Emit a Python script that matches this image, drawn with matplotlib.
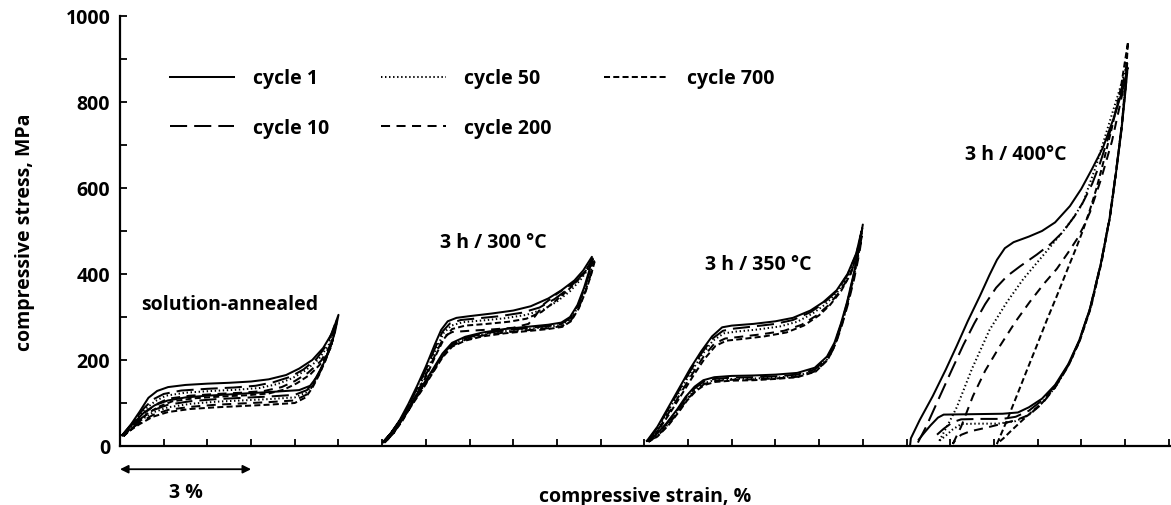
import numpy as np
import matplotlib.pyplot as plt

plt.rcParams['font.family'] = ['Open Sans', 'DejaVu Sans']
plt.rcParams['font.weight'] = 'bold'

# cycle labels and line styles
cycles = ['cycle 1', 'cycle 10', 'cycle 50', 'cycle 200', 'cycle 700']

# ---- solution-annealed (strain %, stress MPa), loading then unloading ----
sa_c1 = [(0.05, 25), (0.25, 50), (0.45, 80), (0.65, 112), (0.85, 128), (1.1, 137), (1.5, 142), (2.0, 145),
         (2.5, 147), (3.0, 150), (3.4, 155), (3.8, 165), (4.1, 180), (4.4, 200), (4.65, 228), (4.85, 262),
         (5.0, 305),
         (4.92, 265), (4.8, 225), (4.65, 190), (4.5, 160), (4.35, 140), (4.1, 130), (3.5, 126), (3.0, 123),
         (2.5, 120), (2.0, 117), (1.5, 113), (1.1, 106), (0.8, 95), (0.55, 78), (0.3, 52), (0.05, 25)]
sa_c10 = [(0.05, 25), (0.3, 55), (0.55, 88), (0.75, 108), (1.0, 121), (1.4, 129), (2.0, 133), (2.6, 136),
          (3.1, 140), (3.5, 148), (3.9, 161), (4.2, 178), (4.5, 203), (4.75, 238), (4.97, 296),
          (4.88, 252), (4.73, 210), (4.58, 176), (4.43, 149), (4.28, 130), (4.0, 119), (3.4, 115), (2.8, 112),
          (2.2, 109), (1.6, 104), (1.1, 96), (0.75, 83), (0.45, 62), (0.2, 40), (0.05, 25)]
sa_c50 = [(0.06, 24), (0.3, 52), (0.55, 83), (0.8, 104), (1.05, 117), (1.5, 124), (2.1, 128), (2.7, 131),
          (3.2, 135), (3.6, 144), (3.95, 158), (4.25, 176), (4.55, 202), (4.78, 236), (4.96, 292),
          (4.87, 248), (4.72, 206), (4.57, 172), (4.42, 145), (4.27, 125), (4.0, 113), (3.4, 109), (2.8, 106),
          (2.2, 103), (1.6, 98), (1.1, 90), (0.75, 78), (0.45, 58), (0.2, 38), (0.06, 24)]
sa_c200 = [(0.07, 24), (0.35, 52), (0.6, 80), (0.85, 98), (1.1, 110), (1.6, 117), (2.2, 121), (2.8, 124),
           (3.3, 128), (3.7, 137), (4.0, 151), (4.3, 170), (4.6, 198), (4.8, 232), (4.95, 288),
           (4.86, 244), (4.71, 202), (4.56, 168), (4.41, 140), (4.26, 119), (4.0, 106), (3.4, 102), (2.8, 99),
           (2.2, 96), (1.6, 91), (1.1, 84), (0.75, 72), (0.45, 54), (0.2, 36), (0.07, 24)]
sa_c700 = [(0.08, 23), (0.35, 48), (0.62, 75), (0.9, 92), (1.2, 104), (1.7, 111), (2.3, 115), (2.9, 118),
           (3.4, 122), (3.75, 131), (4.05, 146), (4.35, 166), (4.62, 194), (4.82, 228), (4.95, 284),
           (4.85, 240), (4.7, 198), (4.55, 164), (4.4, 135), (4.25, 113), (4.0, 100), (3.4, 96), (2.8, 93),
           (2.2, 90), (1.6, 86), (1.1, 79), (0.75, 68), (0.45, 51), (0.2, 34), (0.08, 23)]

# ---- 3 h / 300 C ----
h300_c1 = [(6.02, 9), (6.2, 30), (6.4, 60), (6.6, 98), (6.8, 140), (7.0, 185), (7.2, 235), (7.35, 270),
           (7.5, 290), (7.7, 298), (8.0, 302), (8.5, 308), (9.0, 315), (9.4, 325), (9.8, 343), (10.1, 362),
           (10.4, 385), (10.6, 408), (10.8, 440),
           (10.74, 408), (10.62, 368), (10.47, 328), (10.3, 300), (10.1, 287), (9.8, 282), (9.3, 277),
           (8.8, 272), (8.3, 264), (7.9, 254), (7.6, 240), (7.38, 215), (7.17, 180), (6.95, 145), (6.7, 105),
           (6.45, 65), (6.2, 30), (6.02, 9)]
h300_c10 = [(6.03, 8), (6.22, 30), (6.42, 60), (6.62, 97), (6.82, 138), (7.02, 182), (7.22, 230), (7.38, 266),
            (7.55, 285), (7.8, 293), (8.2, 297), (8.7, 302), (9.2, 310), (9.6, 322), (9.95, 342), (10.25, 365),
            (10.5, 390), (10.68, 412), (10.82, 436),
            (10.75, 405), (10.63, 366), (10.48, 326), (10.3, 297), (10.1, 284), (9.8, 279), (9.3, 274),
            (8.8, 269), (8.3, 261), (7.9, 251), (7.6, 237), (7.38, 212), (7.17, 177), (6.95, 142), (6.7, 102),
            (6.45, 63), (6.22, 30), (6.03, 8)]
h300_c50 = [(6.04, 8), (6.24, 30), (6.44, 60), (6.64, 96), (6.84, 136), (7.04, 180), (7.24, 226), (7.4, 262),
            (7.58, 280), (7.85, 288), (8.3, 292), (8.8, 297), (9.3, 305), (9.7, 318), (10.0, 336), (10.3, 360),
            (10.55, 388), (10.72, 412), (10.84, 432),
            (10.76, 402), (10.64, 364), (10.49, 324), (10.31, 295), (10.11, 282), (9.8, 277), (9.3, 272),
            (8.8, 267), (8.3, 259), (7.9, 249), (7.6, 235), (7.38, 210), (7.17, 175), (6.95, 140), (6.7, 101),
            (6.45, 62), (6.24, 30), (6.04, 8)]
h300_c200 = [(6.05, 8), (6.25, 30), (6.45, 58), (6.65, 94), (6.85, 134), (7.05, 176), (7.25, 220), (7.42, 255),
             (7.6, 265), (8.0, 268), (8.5, 271), (9.0, 275), (9.35, 284), (9.5, 302), (9.7, 330), (10.0, 354),
             (10.3, 374), (10.55, 396), (10.72, 414), (10.85, 430),
             (10.78, 400), (10.65, 360), (10.5, 322), (10.32, 292), (10.12, 279), (9.8, 274), (9.3, 269),
             (8.8, 264), (8.3, 257), (7.9, 247), (7.6, 233), (7.38, 208), (7.17, 174), (6.95, 138), (6.7, 100),
             (6.45, 61), (6.25, 30), (6.05, 8)]
h300_c700 = [(6.06, 8), (6.26, 30), (6.46, 58), (6.66, 93), (6.86, 132), (7.06, 174), (7.26, 218), (7.42, 250),
             (7.6, 272), (7.9, 280), (8.4, 284), (8.9, 289), (9.3, 296), (9.65, 312), (9.95, 336), (10.25, 362),
             (10.5, 388), (10.7, 410), (10.86, 428),
             (10.78, 398), (10.66, 360), (10.5, 320), (10.32, 290), (10.12, 277), (9.8, 272), (9.3, 267),
             (8.8, 262), (8.3, 255), (7.9, 245), (7.6, 231), (7.38, 206), (7.17, 172), (6.95, 136), (6.7, 98),
             (6.45, 60), (6.26, 30), (6.06, 8)]

# ---- 3 h / 350 C ----
h350_c1 = [(12.06, 12), (12.3, 45), (12.55, 90), (12.8, 135), (13.05, 180), (13.3, 220), (13.55, 255),
           (13.78, 276), (14.0, 280), (14.5, 284), (15.0, 290), (15.4, 298), (15.8, 315), (16.1, 335),
           (16.4, 362), (16.65, 400), (16.85, 448), (16.97, 500),
           (16.9, 455), (16.78, 395), (16.64, 335), (16.5, 285), (16.35, 240), (16.18, 208), (15.9, 182),
           (15.5, 170), (15.0, 166), (14.5, 164), (14.0, 163), (13.6, 160), (13.35, 153), (13.15, 138),
           (12.95, 115), (12.75, 85), (12.5, 52), (12.25, 25), (12.06, 12)]
h350_c10 = [(12.07, 11), (12.31, 44), (12.56, 88), (12.81, 132), (13.06, 176), (13.31, 216), (13.56, 250),
            (13.8, 268), (14.05, 273), (14.5, 278), (15.0, 284), (15.4, 293), (15.8, 311), (16.1, 332),
            (16.4, 360), (16.65, 398), (16.85, 446), (16.97, 495),
            (16.9, 452), (16.78, 392), (16.64, 332), (16.5, 282), (16.35, 237), (16.18, 204), (15.9, 178),
            (15.5, 166), (15.0, 162), (14.5, 160), (14.0, 159), (13.6, 156), (13.35, 149), (13.15, 134),
            (12.95, 111), (12.75, 82), (12.5, 50), (12.25, 24), (12.07, 11)]
h350_c50 = [(12.08, 11), (12.32, 43), (12.57, 86), (12.82, 129), (13.07, 172), (13.32, 212), (13.57, 245),
            (13.82, 262), (14.1, 266), (14.6, 271), (15.1, 278), (15.5, 289), (15.85, 308), (16.15, 330),
            (16.42, 358), (16.67, 397), (16.87, 445), (16.98, 492),
            (16.91, 450), (16.79, 390), (16.65, 330), (16.51, 280), (16.36, 235), (16.19, 202), (15.9, 176),
            (15.5, 163), (15.0, 159), (14.5, 157), (14.0, 156), (13.6, 153), (13.36, 146), (13.16, 131),
            (12.96, 109), (12.76, 80), (12.52, 48), (12.27, 23), (12.08, 11)]
h350_c200 = [(12.09, 10), (12.34, 42), (12.6, 84), (12.85, 126), (13.1, 168), (13.35, 207), (13.6, 238),
             (13.85, 250), (14.2, 254), (14.7, 260), (15.2, 268), (15.6, 282), (15.95, 304), (16.2, 326),
             (16.45, 356), (16.7, 396), (16.88, 445), (16.98, 488),
             (16.92, 448), (16.8, 388), (16.66, 330), (16.52, 280), (16.37, 235), (16.2, 201), (15.92, 174),
             (15.5, 161), (15.0, 157), (14.5, 155), (14.0, 154), (13.62, 151), (13.37, 144), (13.17, 129),
             (12.97, 107), (12.77, 79), (12.53, 47), (12.28, 22), (12.09, 10)]
h350_c700 = [(12.1, 10), (12.35, 41), (12.62, 82), (12.88, 124), (13.13, 165), (13.38, 203), (13.63, 233),
             (13.88, 245), (14.25, 249), (14.75, 255), (15.25, 264), (15.65, 280), (16.0, 304), (16.25, 328),
             (16.5, 360), (16.72, 400), (16.9, 455), (17.0, 515),
             (16.93, 465), (16.8, 398), (16.66, 336), (16.52, 284), (16.37, 237), (16.2, 201), (15.92, 173),
             (15.5, 160), (15.0, 156), (14.5, 153), (14.0, 152), (13.62, 149), (13.38, 142), (13.18, 128),
             (12.98, 106), (12.78, 78), (12.55, 48), (12.3, 22), (12.1, 10)]

# ---- 3 h / 400 C ----
h400_c1 = [(18.08, 0), (18.1, 18), (18.3, 60), (18.6, 116), (18.9, 178), (19.15, 233), (19.4, 290),
           (19.68, 349), (19.9, 398), (20.07, 433), (20.25, 460), (20.45, 474), (20.8, 487), (21.1, 500),
           (21.4, 520), (21.74, 558), (22.0, 598), (22.25, 645), (22.5, 695), (22.75, 765), (22.95, 830),
           (23.05, 868),
           (23.0, 815), (22.92, 735), (22.8, 640), (22.65, 530), (22.45, 425), (22.2, 320), (21.95, 245),
           (21.7, 190), (21.4, 142), (21.1, 110), (20.8, 90), (20.55, 78), (20.2, 75), (19.5, 74), (18.85, 73),
           (18.72, 66), (18.55, 48), (18.4, 30), (18.28, 15)]
h400_c10 = [(18.26, 8), (18.45, 45), (18.76, 115), (19.05, 180), (19.3, 235), (19.55, 285), (19.8, 330),
            (20.05, 368), (20.3, 395), (20.6, 418), (20.98, 445), (21.3, 470), (21.58, 498), (21.85, 535),
            (22.04, 567), (22.25, 610), (22.43, 658), (22.65, 728), (22.88, 812), (23.05, 890),
            (23.0, 822), (22.92, 740), (22.8, 643), (22.65, 532), (22.45, 426), (22.2, 320), (21.95, 244),
            (21.7, 188), (21.4, 140), (21.1, 106), (20.8, 82), (20.5, 68), (20.2, 63), (19.7, 63), (19.25, 62),
            (19.05, 55), (18.85, 40), (18.65, 22)]
h400_c50 = [(18.75, 12), (18.95, 50), (19.15, 90), (19.5, 180), (19.9, 270), (20.3, 335), (20.67, 388),
            (21.0, 428), (21.28, 462), (21.55, 495), (21.8, 528), (22.04, 566), (22.35, 655), (22.6, 738),
            (22.85, 820), (23.04, 885),
            (23.0, 820), (22.92, 738), (22.8, 641), (22.65, 530), (22.45, 424), (22.2, 318), (21.95, 242),
            (21.7, 186), (21.4, 136), (21.1, 100), (20.8, 72), (20.5, 58), (20.1, 52), (19.6, 52), (19.25, 51),
            (19.05, 38), (18.9, 24), (18.75, 12)]
h400_c200 = [(19.06, 5), (19.25, 45), (19.52, 116), (19.8, 175), (20.14, 233), (20.5, 290), (20.82, 335),
             (21.15, 378), (21.44, 412), (21.7, 450), (21.9, 481), (22.05, 510), (22.2, 544), (22.45, 620),
             (22.7, 708), (22.9, 800), (23.06, 880),
             (23.0, 820), (22.92, 738), (22.8, 641), (22.65, 530), (22.45, 424), (22.2, 318), (21.95, 242),
             (21.7, 186), (21.4, 136), (21.1, 98), (20.8, 72), (20.5, 60), (20.2, 52), (19.8, 42), (19.45, 34),
             (19.25, 26), (19.12, 14), (19.06, 5)]
h400_c700 = [(20.07, 5), (20.3, 60), (20.52, 116), (20.75, 175), (20.98, 233), (21.2, 290), (21.44, 349),
             (21.68, 410), (21.9, 465), (22.05, 505), (22.2, 550), (22.35, 600), (22.5, 658), (22.7, 740),
             (22.9, 830), (23.07, 940),
             (23.02, 860), (22.94, 760), (22.82, 655), (22.67, 540), (22.47, 430), (22.22, 322), (21.97, 246),
             (21.72, 190), (21.42, 140), (21.12, 102), (20.85, 78), (20.6, 55), (20.4, 36), (20.22, 18),
             (20.07, 5)]

group_labels = ['solution-annealed', '3 h / 300 °C', '3 h / 350 °C', '3 h / 400°C']
label_pos = [(2.5, 330), (8.54, 474), (14.6, 423), (20.5, 679)]

groups = [
    [sa_c1, sa_c10, sa_c50, sa_c200, sa_c700],
    [h300_c1, h300_c10, h300_c50, h300_c200, h300_c700],
    [h350_c1, h350_c10, h350_c50, h350_c200, h350_c700],
    [h400_c1, h400_c10, h400_c50, h400_c200, h400_c700],
]

# dash patterns for cycle 1, 10, 50, 200, 700
styles = ['-', (0, (8.5, 3.5)), (0, (0.7, 1.3)), (0, (4.5, 3.2)), (0, (3.0, 1.6))]

fig = plt.figure(figsize=(11.71, 5.06), dpi=100)
ax = fig.add_axes([120 / 1171, 59 / 506, 1050 / 1171, 430 / 506])

for g in groups:
    for i, curve in enumerate(g):
        pts = np.array(curve)
        ax.plot(pts[:, 0], pts[:, 1], color='black', lw=1.45, linestyle=styles[i],
                label=cycles[i] if g is groups[0] else None)

for txt, (x, y) in zip(group_labels, label_pos):
    ax.text(x, y, txt, ha='center', va='center', fontsize=14, fontweight='bold')

ax.set_xlim(0, 24.03)
ax.set_ylim(0, 1000)
ax.set_xticks(np.arange(0, 25, 1))
ax.set_xticklabels([])
ax.set_yticks(np.arange(0, 1001, 200))
ax.set_yticks(np.arange(100, 1000, 200), minor=True)
ax.tick_params(axis='both', which='both', direction='in', length=5, width=1.3, labelsize=14)
ax.tick_params(axis='y', pad=7)
for s in ['top', 'right']:
    ax.spines[s].set_visible(False)
for s in ['left', 'bottom']:
    ax.spines[s].set_linewidth(1.6)

ax.set_ylabel('compressive stress, MPa', fontsize=14, fontweight='bold', labelpad=22)
ax.set_xlabel('compressive strain, %', fontsize=14, fontweight='bold', labelpad=25)

# 3 % scale arrow below the axis
trans = ax.get_xaxis_transform()
ax.annotate('', xy=(0, -0.054), xytext=(3, -0.054), xycoords=trans, textcoords=trans,
            arrowprops=dict(arrowstyle='<|-|>', color='black', lw=1.3, mutation_scale=12,
                            shrinkA=0, shrinkB=0), annotation_clip=False)
ax.text(1.5, -0.107, '3 %', transform=trans, ha='center', va='center', fontsize=14, fontweight='bold')

ax.legend(loc='upper left', bbox_to_anchor=(0.0476, 0.878), ncol=3, frameon=False,
          handlelength=3.3, handletextpad=0.95, columnspacing=2.7, labelspacing=1.5,
          borderaxespad=0, borderpad=0, prop={'size': 14, 'weight': 'bold'})

fig.savefig('out.png', dpi=100)
